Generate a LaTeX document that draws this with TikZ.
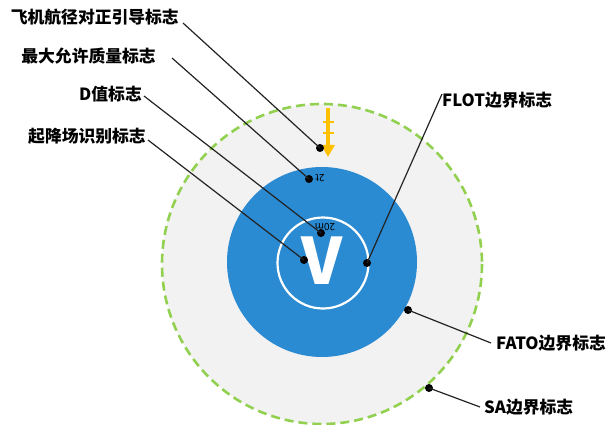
\documentclass[tikz,border=0pt]{standalone}
\usepackage{fontspec}
\newfontfamily\cjk{Noto Sans CJK SC}
\usetikzlibrary{arrows.meta}
\definecolor{outerfill}{RGB}{242,242,242}
\definecolor{sagreen}{RGB}{146,208,80}
\definecolor{fatoblue}{RGB}{42,138,210}
\definecolor{arrowyellow}{RGB}{255,192,0}
\definecolor{leader}{RGB}{35,35,35}
\tikzset{
  lbl/.style={font=\cjk\bfseries\fontsize{16.8}{18}\selectfont, inner sep=0pt, text=black},
  leadline/.style={draw=leader, line width=1.2pt},
  dotmark/.style={circle, fill=black, inner sep=0pt, minimum size=8pt},
  smalltxt/.style={font=\cjk\fontsize{10}{11}\selectfont, inner sep=0pt, rotate=180, text=black}
}
\begin{document}
\begin{tikzpicture}[x=1pt,y=-1pt]
\useasboundingbox (0,0) rectangle (608,425);
% outer SA circle
\path[fill=outerfill] (322,264) circle (160);
\draw[sagreen, line width=2.6pt, dash pattern=on 9pt off 5pt] (322,264) circle (160);
% FATO
\fill[fatoblue] (322,262) circle (95);
% FLOT ring
\draw[white, line width=2.2pt] (323,263) circle (45.5);
% V
\node[font=\cjk\bfseries\fontsize{64}{64}\selectfont, text=white, inner sep=0pt] (vmark) at (322,261) {V};
% small texts
\node[smalltxt] (t2) at (320,178.5) {2t};
\node[smalltxt] (t20) at (325,227.5) {20m};
% yellow arrow
\draw[arrowyellow, line width=3.3pt, -{Triangle[width=13pt,length=12pt]}] (328,108) -- (328,157);
\draw[arrowyellow, line width=1.8pt] (322.5,122) -- (333.5,122) (322.5,133) -- (333.5,133);
% dots
\node[dotmark] (d1) at (320,148) {};
\node[dotmark] (d2) at (309,179) {};
\node[dotmark] (d3) at (321,233) {};
\node[dotmark] (d4) at (304,260) {};
\node[dotmark] (d5) at (367,263) {};
\node[dotmark] (d6) at (408,310) {};
\node[dotmark] (d7) at (429,388) {};
% labels
\node[lbl, anchor=east] (l1) at (179,17) {飞机航径对正引导标志};
\node[lbl, anchor=east] (l2) at (156,56) {最大允许质量标志};
\node[lbl, anchor=east] (l3) at (142,94) {D值标志};
\node[lbl, anchor=east] (l4) at (146,136) {起降场识别标志};
\node[lbl, anchor=west] (l5) at (442,100) {FLOT边界标志};
\node[lbl, anchor=west] (l6) at (496,343) {FATO边界标志};
\node[lbl, anchor=west] (l7) at (484,407) {SA边界标志};
% leader anchor coordinates
\coordinate (c1) at (183,23);
\coordinate (c2) at (172,58);
\coordinate (c3) at (144,96);
\coordinate (c4) at (148,140);
\coordinate (c5) at (442,94);
\coordinate (c6) at (491,343);
\coordinate (c7) at (480,407);
\draw[leadline] (c1) -- (d1.center);
\draw[leadline] (c2) -- (d2.center);
\draw[leadline] (c3) -- (d3.center);
\draw[leadline] (c4) -- (d4.center);
\draw[leadline] (c5) -- (d5.center);
\draw[leadline] (c6) -- (d6.center);
\draw[leadline] (c7) -- (d7.center);
\end{tikzpicture}
\end{document}
